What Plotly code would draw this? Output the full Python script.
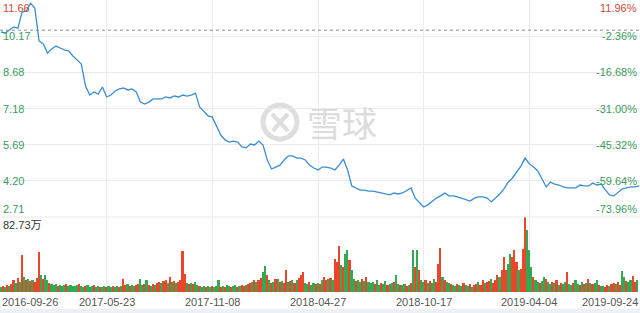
import plotly.graph_objects as go

# ---------------- data ----------------
PRICE = [
    10.34, 10.30, 10.42, 10.55, 10.50, 11.16, 11.21, 11.52, 11.33, 9.97,
    9.85, 9.47, 9.64, 9.76, 9.68, 9.60, 9.56, 9.35, 9.19, 9.02,
    8.11, 7.74, 7.87, 7.78, 8.07, 7.66, 7.74, 7.91, 7.99, 8.03,
    7.95, 7.99, 7.87, 7.45, 7.37, 7.45, 7.58, 7.58, 7.58, 7.66,
    7.62, 7.70, 7.66, 7.74, 7.70, 7.74, 7.82, 7.25, 7.08, 6.88,
    6.83, 6.46, 6.09, 5.89, 5.80, 5.84, 5.80, 5.60, 5.56, 5.72,
    5.68, 5.84, 5.68, 5.06, 4.69, 4.77, 4.85, 5.06, 5.23, 5.23,
    5.14, 5.14, 5.06, 4.85, 4.73, 4.65, 4.77, 4.77, 4.73, 4.65,
    4.85, 5.10, 4.65, 3.99, 3.91, 3.82, 3.82, 3.78, 3.78, 3.74,
    3.70, 3.66, 3.62, 3.70, 3.66, 3.70, 3.82, 3.91, 3.49, 3.29,
    3.12, 3.21, 3.37, 3.49, 3.58, 3.70, 3.58, 3.58, 3.54, 3.49,
    3.41, 3.37, 3.49, 3.54, 3.54, 3.49, 3.33, 3.49, 3.66, 3.87,
    4.15, 4.32, 4.57, 4.81, 5.14, 4.90, 4.77, 4.61, 4.28, 3.95,
    4.15, 4.07, 4.03, 3.95, 3.91, 3.91, 3.91, 4.03, 3.99, 3.99,
    4.11, 4.03, 4.07, 3.82, 3.62, 3.58, 3.74, 3.87, 3.91, 3.95,
    3.95, 3.99,
]

# volume in 万 (two bars per price sample)
VOLUME = [
    5.5, 6.6, 5.5, 7.7, 6.6,   8.8, 13.2, 9.9, 15.4, 11.0,
    40.8, 16.5, 13.2, 14.3, 12.1,   13.2, 11.0, 15.4, 44.1, 18.7,
    14.3, 18.7, 13.2, 9.9, 8.8,   7.7, 8.8, 6.6, 7.7, 6.6,
    7.7, 8.8, 6.6, 7.7, 6.6,   6.6, 7.7, 8.8, 6.6, 5.5,
    6.6, 7.7, 5.5, 6.6, 7.7,   5.5, 6.6, 5.5, 5.5, 6.6,
    5.5, 6.6, 5.5, 6.6, 5.5,   6.6, 5.5, 6.6, 14.3, 7.7,
    8.8, 6.6, 7.7, 6.6, 7.7,   8.8, 14.3, 7.7, 8.8, 13.2,
    7.7, 6.6, 8.8, 7.7, 9.9,   11.0, 9.9, 12.1, 13.2, 9.9,
    16.5, 11.0, 12.1, 9.9, 11.0,   13.2, 45.2, 19.9, 9.9, 8.8,
    9.9, 8.8, 11.0, 7.7, 6.6,   5.5, 6.6, 5.5, 6.6, 5.5,
    6.6, 5.5, 6.6, 13.2, 5.5,   6.6, 5.5, 7.7, 6.6, 5.5,
    6.6, 7.7, 5.5, 6.6, 7.7,   6.6, 7.7, 8.8, 9.9, 11.0,
    13.2, 11.0, 13.2, 15.4, 22.1,   28.7, 18.7, 13.2, 9.9, 11.0,
    14.3, 14.3, 11.0, 12.1, 9.9,   24.3, 11.0, 12.1, 13.2, 9.9,
    13.2, 15.4, 18.7, 22.1, 9.9,   8.8, 11.0, 7.7, 9.9, 8.8,
    9.9, 8.8, 13.2, 16.5, 13.2,   14.3, 15.4, 13.2, 36.4, 33.1,
    50.7, 29.8, 27.6, 41.9, 46.3,   35.3, 24.3, 14.3, 12.1, 13.2,
    11.0, 14.3, 12.1, 16.5, 11.0,   9.9, 11.0, 8.8, 13.2, 7.7,
    9.9, 8.8, 12.1, 7.7, 8.8,   9.9, 11.0, 18.7, 8.8, 7.7,
    7.7, 8.8, 6.6, 7.7, 9.9,   46.3, 27.6, 46.3, 24.3, 13.2,
    11.0, 13.2, 9.9, 12.1, 9.9,   14.3, 11.0, 30.9, 48.5, 16.5,
    13.2, 11.0, 9.9, 8.8, 7.7,   6.6, 8.8, 7.7, 6.6, 9.9,
    7.7, 6.6, 8.8, 5.5, 7.7,   8.8, 11.0, 7.7, 13.2, 9.9,
    11.0, 12.1, 14.3, 9.9, 13.2,   18.7, 16.5, 24.3, 38.6, 24.3,
    30.9, 41.9, 38.6, 46.3, 33.1,   24.3, 25.4, 47.4, 82.7, 68.4,
    46.3, 27.6, 16.5, 13.2, 11.0,   9.9, 12.1, 16.5, 14.3, 11.0,
    8.8, 11.0, 9.9, 13.2, 7.7,   9.9, 8.8, 11.0, 22.1, 8.8,
    7.7, 9.9, 13.2, 8.8, 7.7,   11.0, 8.8, 9.9, 14.3, 9.9,
    8.8, 9.9, 13.2, 7.7, 6.6,   6.6, 5.5, 7.7, 6.6, 8.8,
    9.9, 8.8, 11.0, 7.7, 23.2,   16.5, 12.1, 11.0, 13.2, 17.7,
    11.0, 13.2,
]

# r = up day (red), g = down day (green)
VOL_FLAGS = (
    "grgrg" "rrgrg" "rgrgr" "grrrg" "rggrg" "ggrgg" "grggg" "ggrgg" "rgggr" "ggrgg"
    "rggrg" "grgrr" "grggr" "rggrg" "rgrgr" "rgrrg" "rgrgr" "rrrgr" "grggr" "ggrgg"
    "rgggr" "grggr" "ggrgr" "rgrrg" "rgrrg" "grgrg" "rgrgr" "rgrgr" "grrrg" "grggr"
    "grgrr" "grgrr" "rgrgg" "rggrg" "grgrg" "ggrgg" "rggrg" "grggr" "ggrgr" "grgrg"
    "grgrg" "grrrg" "rggrg" "grggr" "ggrgr" "rgrrg" "rrgrr" "rgrrr" "ggrrr" "grrrg"
    "ggrgg" "rggrg" "grgrg" "rggrg" "grggr" "grgrg" "rggrg" "grrgr" "rgrrg" "grggr"
    "rg"
)

DATE_TICK_IDX = [0, 25, 50, 75, 100, 125, 150]
DATE_LABELS = ["2016-09-26", "2017-05-23", "2017-11-08", "2018-04-27",
               "2018-10-17", "2019-04-04", "2019-09-24"]
PRICE_TICKS = [11.66, 10.17, 8.68, 7.18, 5.69, 4.20, 2.71]
PRICE_LABELS = ["11.66", "10.17", "8.68", "7.18", "5.69", "4.20", "2.71"]
PCT_LABELS = ["11.96%", "-2.36%", "-16.68%", "-31.00%", "-45.32%", "-59.64%", "-73.96%"]
BASE_PRICE = 10.415
VOL_MAX = 82.73
VOL_MAX_LABEL = "82.73万"

# ---------------- styling ----------------
W, H = 640, 313
PLOT_H = 292              # plot area height in px (bottom margin holds dates)
PRICE_BOTTOM_PX = 217     # separator between price and volume panels
RED, GREEN = "#d24a38", "#3b9b5e"
BAR_RED, BAR_GREEN = "#ea462b", "#35a853"
LINE_BLUE = "#3b8dd4"
GRID = "#ebebeb"
FONT = "Arial, Liberation Sans, Noto Sans CJK SC, sans-serif"

def px_x(x):
    return x / W

def px_y(y):
    return (PLOT_H - y) / PLOT_H

split = px_y(PRICE_BOTTOM_PX)

x_price = list(range(len(PRICE)))
x_vol = [j * 0.5 for j in range(len(VOLUME))]
bar_colors = [BAR_RED if f == "r" else BAR_GREEN for f in VOL_FLAGS]

fig = go.Figure()
fig.add_trace(go.Scatter(x=x_price, y=PRICE, mode="lines",
                         line=dict(color=LINE_BLUE, width=1.3),
                         xaxis="x", yaxis="y", hoverinfo="skip"))
fig.add_trace(go.Bar(x=x_vol, y=VOLUME, width=0.4,
                     marker=dict(color=bar_colors, line=dict(width=0)),
                     xaxis="x2", yaxis="y2", hoverinfo="skip"))

xrange = [-0.237, 151.18]
grid_x = DATE_TICK_IDX[1:-1]
common_x = dict(range=xrange, showticklabels=False, tickvals=grid_x,
                showgrid=True, gridcolor=GRID, gridwidth=1,
                zeroline=False, showline=False, ticks="", fixedrange=True)

fig.update_layout(
    width=W, height=H,
    margin=dict(l=0, r=0, t=0, b=H - PLOT_H),
    paper_bgcolor="white", plot_bgcolor="white",
    showlegend=False, bargap=0,
    font=dict(family=FONT, size=11, color="#666"),
    xaxis=dict(domain=[0, 1], anchor="y", **common_x),
    xaxis2=dict(domain=[0, 1], anchor="y2", **common_x),
    yaxis=dict(domain=[split, 1], range=[PRICE_TICKS[-1], PRICE_TICKS[0]],
               tickvals=PRICE_TICKS, showticklabels=False, showgrid=True,
               gridcolor=GRID, zeroline=False, showline=False, ticks=""),
    yaxis2=dict(domain=[0, split], range=[0, VOL_MAX], showticklabels=False,
                showgrid=False, zeroline=False, showline=False, ticks=""),
)

shapes = []
# previous-close dotted line
shapes.append(dict(type="line", xref="paper", x0=0, x1=1, yref="y",
                   y0=BASE_PRICE, y1=BASE_PRICE,
                   line=dict(color="#8c8c8c", width=1, dash="dot")))
# separator line between panels
shapes.append(dict(type="line", xref="paper", x0=0, x1=1, yref="paper",
                   y0=split, y1=split, line=dict(color=GRID, width=1)))
# bottom scroll strip
shapes.append(dict(type="rect", xref="paper", x0=0, x1=1, yref="paper",
                   y0=px_y(309), y1=px_y(313), line=dict(width=0),
                   fillcolor="#edf1f6", layer="below"))
# watermark logo
cx, cy, r = 280, 122, 17
shapes.append(dict(type="circle", xref="paper", yref="paper",
                   x0=px_x(cx - r), x1=px_x(cx + r), y0=px_y(cy + r), y1=px_y(cy - r),
                   line=dict(color="#dedede", width=5), layer="below"))
shapes.append(dict(type="path", xref="paper", yref="paper",
                   path=f"M {px_x(cx-8)} {px_y(cy-8)} Q {px_x(cx)} {px_y(cy)} {px_x(cx+8)} {px_y(cy+9)}",
                   line=dict(color="#dedede", width=4), layer="below"))
shapes.append(dict(type="path", xref="paper", yref="paper",
                   path=f"M {px_x(cx+8)} {px_y(cy-8)} Q {px_x(cx-2)} {px_y(cy+2)} {px_x(cx-7)} {px_y(cy+9)}",
                   line=dict(color="#dedede", width=4), layer="below"))
fig.update_layout(shapes=shapes)

ann = []
n = len(PRICE_TICKS)
for k, (p, lab, pct) in enumerate(zip(PRICE_TICKS, PRICE_LABELS, PCT_LABELS)):
    col = RED if p > BASE_PRICE else GREEN
    ya = "top" if k == 0 else ("bottom" if k == n - 1 else "middle")
    ann.append(dict(xref="paper", x=0.002, xanchor="left", yref="y", y=p, yanchor=ya,
                    text=lab, showarrow=False, font=dict(size=11, color=col, family=FONT)))
    ann.append(dict(xref="paper", x=0.998, xanchor="right", yref="y", y=p, yanchor=ya,
                    text=pct, showarrow=False, font=dict(size=11, color=col, family=FONT)))
ann.append(dict(xref="paper", x=0.002, xanchor="left", yref="y2", y=VOL_MAX, yanchor="top",
                text=VOL_MAX_LABEL, showarrow=False, font=dict(size=11, color="#333", family=FONT)))
for k, (idx, lab) in enumerate(zip(DATE_TICK_IDX, DATE_LABELS)):
    xa = "left" if k == 0 else ("right" if k == len(DATE_LABELS) - 1 else "center")
    xpos = xrange[0] if k == 0 else (xrange[1] if k == len(DATE_LABELS) - 1 else idx)
    ann.append(dict(xref="x", x=xpos, xanchor=xa, yref="paper", y=px_y(302), yanchor="middle",
                    text=lab, showarrow=False, font=dict(size=11, color="#555", family=FONT)))
# watermark text
ann.append(dict(xref="paper", x=px_x(342), xanchor="center", yref="paper", y=px_y(121),
                yanchor="middle", text="雪球", showarrow=False,
                font=dict(size=35, color="#dcdcdc", family="Noto Sans CJK SC")))
fig.update_layout(annotations=ann)

fig.write_html("out.html", config={"displayModeBar": False})
